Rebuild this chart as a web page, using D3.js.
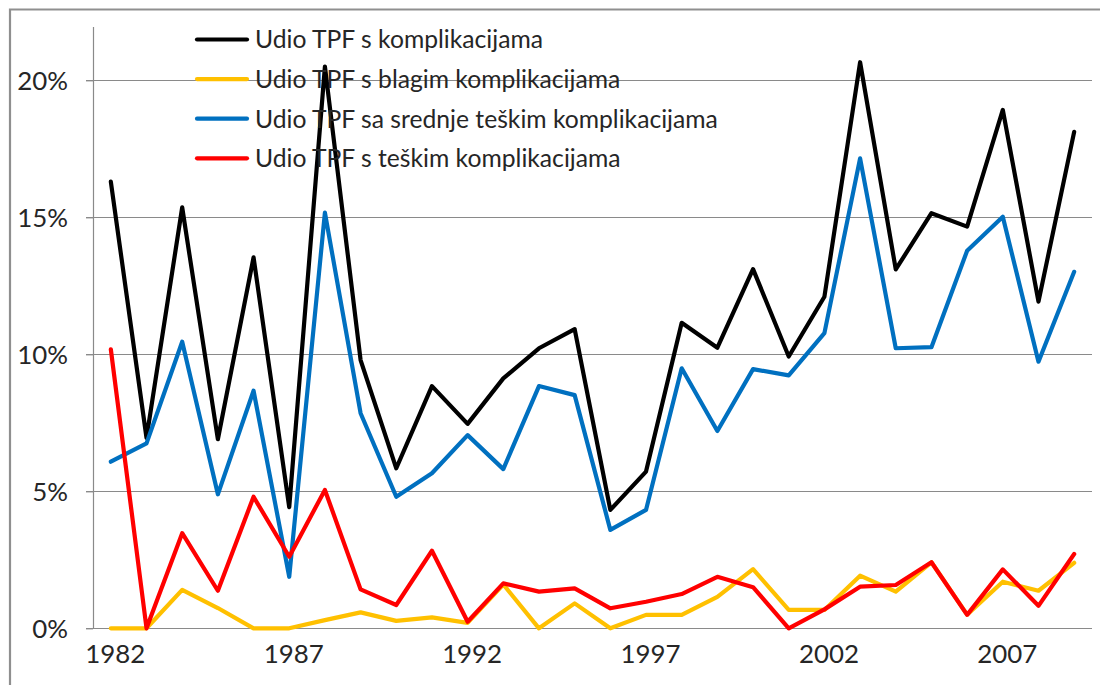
<!DOCTYPE html>
<html>
<head>
<meta charset="utf-8">
<script src="https://cdn.jsdelivr.net/npm/d3@7"></script>
<style>
  html, body { margin: 0; padding: 0; background: #fff; }
  svg { display: block; }
</style>
</head>
<body>
<svg id="chart" width="1100" height="685"></svg>
<script>
// ---------------- data ----------------
const years = [1982,1983,1984,1985,1986,1987,1988,1989,1990,1991,1992,1993,1994,1995,
               1996,1997,1998,1999,2000,2001,2002,2003,2004,2005,2006,2007,2008,2009];
const xTickYears = [1982, 1987, 1992, 1997, 2002, 2007];
const yTicks = [0, 0.05, 0.10, 0.15, 0.20];

const seriesNames = [
  "Udio TPF s komplikacijama",
  "Udio TPF s blagim komplikacijama",
  "Udio TPF sa srednje teškim komplikacijama",
  "Udio TPF s teškim komplikacijama"
];
const seriesColors = ["#000000", "#FFC000", "#0070C0", "#FF0000"];

// values in percent
const totalPct = [16.3, 6.95, 15.36, 6.9, 13.54, 4.42, 20.5, 9.79, 5.84, 8.84, 7.46, 9.12, 10.22, 10.92,
                  4.32, 5.72, 11.15, 10.24, 13.11, 9.92, 12.1, 20.66, 13.1, 15.15, 14.66, 18.92, 11.92, 18.12];
const mildPct  = [0, 0, 1.4, 0.74, 0, 0, 0.3, 0.58, 0.27, 0.4, 0.2, 1.6, 0, 0.91,
                  0, 0.49, 0.49, 1.15, 2.16, 0.67, 0.67, 1.92, 1.34, 2.41, 0.5, 1.7, 1.37, 2.39];
const mediumPct = [6.08, 6.75, 10.46, 4.89, 8.67, 1.88, 15.17, 7.85, 4.8, 5.66, 7.05, 5.81, 8.84, 8.51,
                   3.59, 4.32, 9.49, 7.2, 9.46, 9.23, 10.77, 17.15, 10.22, 10.26, 13.78, 15.02, 9.73, 13.01];
const severePct = [10.18, 0, 3.47, 1.37, 4.8, 2.61, 5.05, 1.42, 0.85, 2.83, 0.24, 1.64, 1.34, 1.46,
                   0.73, 0.97, 1.25, 1.88, 1.5, 0, 0.69, 1.52, 1.58, 2.41, 0.49, 2.15, 0.82, 2.71];

const seriesValues = [totalPct, mildPct, mediumPct, severePct];

// ---------------- layout ----------------
const svg = d3.select("#chart");
const FONT = "Lato, 'Open Sans', 'Liberation Sans', sans-serif";
const TEXT_COLOR = "#262626";
const GRID_COLOR = "#8a8a8a";

function fitSize(str, target) {
  const t = svg.append("text").attr("font-family", FONT).attr("font-size", 100).text(str);
  const w = t.node().getComputedTextLength();
  t.remove();
  return 100 * target / w;
}
const legendSize = fitSize(seriesNames[2], 463);
const tickSize = fitSize("1982", 60);

const plot = { left: 93, right: 1092, top: 25.5, bottom: 628.3 };

const x = d3.scalePoint().domain(years).range([plot.left, plot.right]).padding(0.5);
const y = d3.scaleLinear().domain([0, 0.22]).range([plot.bottom, plot.top]);

svg.append("rect").attr("width", 1100).attr("height", 685).attr("fill", "#fff");

// outer frame (top & left edges visible)
svg.append("path")
  .attr("d", `M10,685 L10,9.5 L1100,9.5`)
  .attr("fill", "none").attr("stroke", "#8f8f8f").attr("stroke-width", 2.2);

// gridlines
svg.append("g").selectAll("line").data(yTicks).join("line")
  .attr("x1", plot.left - 7).attr("x2", plot.right)
  .attr("y1", d => Math.round(y(d)) + 0.5).attr("y2", d => Math.round(y(d)) + 0.5)
  .attr("stroke", GRID_COLOR).attr("stroke-width", 1.2);

// y axis
const yAxis = svg.append("g").attr("transform", `translate(${plot.left},0)`)
  .call(d3.axisLeft(y).tickValues(yTicks).tickFormat(d3.format(".0%")).tickSize(7).tickPadding(18));
yAxis.select(".domain").remove();
yAxis.selectAll("line").attr("stroke", GRID_COLOR).attr("stroke-width", 1.2);
yAxis.selectAll("text").attr("font-family", FONT).attr("font-size", tickSize)
  .attr("fill", TEXT_COLOR).attr("dy", "0.35em");
svg.append("line")
  .attr("x1", plot.left + 0.5).attr("x2", plot.left + 0.5)
  .attr("y1", plot.top + 1.5).attr("y2", plot.bottom)
  .attr("stroke", GRID_COLOR).attr("stroke-width", 1.2);

// x axis
const xAxis = svg.append("g").attr("transform", `translate(0,${plot.bottom})`)
  .call(d3.axisBottom(x).tickValues(xTickYears).tickSize(0).tickPadding(16));
xAxis.select(".domain").remove();
xAxis.selectAll("text").attr("font-family", FONT).attr("font-size", tickSize)
  .attr("fill", TEXT_COLOR).attr("dy", "0.71em").attr("dx", 4);

// series lines
const line = d3.line().x((d, i) => x(years[i])).y(d => y(d / 100));
svg.append("g").selectAll("path").data(seriesValues).join("path")
  .attr("d", d => line(d))
  .attr("fill", "none")
  .attr("stroke", (d, i) => seriesColors[i])
  .attr("stroke-width", 4.2)
  .attr("stroke-linejoin", "round")
  .attr("stroke-linecap", "round");

// legend
const legendRows = d3.scaleLinear().domain([0, 1]).range([39.5, 79.1]);
const legend = svg.append("g").selectAll("g").data(seriesNames).join("g")
  .attr("transform", (d, i) => `translate(0,${legendRows(i)})`);
legend.append("line")
  .attr("x1", 197).attr("x2", 247).attr("y1", 0).attr("y2", 0)
  .attr("stroke", (d, i) => seriesColors[i]).attr("stroke-width", 4.2)
  .attr("stroke-linecap", "round");
legend.append("text")
  .attr("x", 255).attr("y", 0).attr("dy", "0.36em")
  .attr("font-family", FONT).attr("font-size", legendSize)
  .attr("fill", TEXT_COLOR)
  .text(d => d);
</script>
</body>
</html>
